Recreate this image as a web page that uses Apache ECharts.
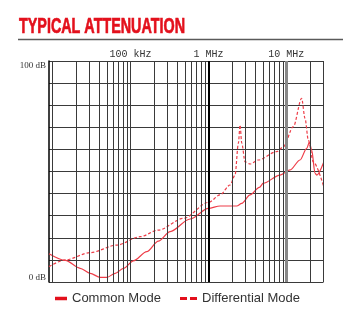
<!DOCTYPE html>
<html>
<head>
<meta charset="utf-8">
<script src="https://cdn.jsdelivr.net/npm/echarts@6/dist/echarts.min.js"></script>
<style>
html,body{margin:0;padding:0;background:#fff;}
#chart{width:350px;height:322px;}
</style>
</head>
<body>
<div id="chart"></div>
<script>
// ---- data (frequency in Hz, attenuation in dB) ----
const titleText = 'TYPICAL ATTENUATION';
const seriesNames = ['Common Mode', 'Differential Mode'];

const cmFreq = [9000, 14600, 22600, 30400, 40900, 49800, 63600, 81300, 109000, 162000, 228000, 323000, 582000,
  1000000, 1413000, 2312000, 2680000, 3426000, 4508000, 5074000, 8300000, 11150000, 15000000, 18280000,
  19730000, 21170000, 23350000, 24540000, 30000000];
const cmAtt = [12.8, 9.8, 6.2, 3.9, 2.1, 2.1, 3.9, 6.2, 9.6, 13.7, 18.5, 22.8, 28.5,
  33.3, 34.4, 34.4, 35.6, 39.4, 42.8, 44.7, 48.4, 50.7, 55.2, 60.5,
  63.2, 59.7, 49.2, 48.4, 54.0];

const dmFreq = [9000, 14600, 30400, 67000, 133000, 228000, 477000, 1000000, 1413000, 1897000, 2198000,
  2425000, 2548000, 2680000, 2953000, 3426000, 4377000, 7530000, 9160000, 12300000, 15740000,
  17380000, 19150000, 22180000, 30000000];
const dmAtt = [7.0, 10.0, 13.3, 16.7, 20.5, 23.5, 28.8, 36.0, 39.4, 43.9, 48.4,
  62.8, 71.0, 62.8, 54.4, 53.4, 55.2, 59.0, 61.2, 70.3, 83.1,
  74.0, 64.3, 54.4, 43.5];

// vertical grid frequencies (Hz)
const gridFreqs = [10000, 20000, 30000, 40000, 50000, 60000, 70000, 80000, 90000,
  100000, 200000, 300000, 400000, 500000, 600000, 700000, 800000, 900000,
  1000000, 2000000, 3000000, 4000000, 5000000, 6000000, 7000000, 8000000, 9000000,
  10000000, 20000000, 30000000];
const xTickLabels = {5: '100 kHz', 6: '1 MHz', 7: '10 MHz'};
const yTickLabels = {0: '0 dB', 100: '100 dB'};
const xMin = 9000, xMax = 30000000, yMin = 0, yMax = 100, yStep = 10;

// ---- chart ----
const zip = (a, b) => a.map((v, i) => [v, b[i]]);
const gridColor = '#3a3a3a';
const markData = gridFreqs.map(f => {
  let ls = {color: gridColor, width: 1, type: 'solid'};
  if (f === 1000000) ls = {color: '#000', width: 2, type: 'solid'};
  if (f === 10000000) ls = {color: '#888', width: 3, type: 'solid'};
  return {xAxis: f, lineStyle: ls};
});

// title scale
const cv = document.createElement('canvas').getContext('2d');
const titleFont = 'bold 22px "Liberation Sans", Arial, sans-serif';
cv.font = titleFont;
const titleScale = 166 / cv.measureText(titleText).width;

const chart = echarts.init(document.getElementById('chart'), null, {renderer: 'canvas'});
const lineColor = '#ee3d48';
chart.setOption({
  backgroundColor: '#fff',
  animation: false,
  graphic: [
    {type: 'text', x: 19, y: 27, scaleX: titleScale,
     style: {text: titleText, font: titleFont, fill: '#e3101c', stroke: '#e3101c', lineWidth: 0.7,
       verticalAlign: 'middle', align: 'left'}},
    {type: 'line', shape: {x1: 18, y1: 39.5, x2: 343, y2: 39.5}, style: {stroke: '#5a5a5a', lineWidth: 1.5}}
  ],
  grid: {left: 49, right: 26.5, top: 61, bottom: 40},
  xAxis: {
    type: 'log', min: xMin, max: xMax, logBase: 10, position: 'top',
    axisLine: {show: false}, axisTick: {show: false}, splitLine: {show: false},
    axisLabel: {
      margin: 2, color: '#333', fontFamily: '"Liberation Mono", monospace', fontSize: 10,
      formatter: v => { const l = Math.log10(v); const r = Math.round(l); return Math.abs(l - r) < 1e-6 && xTickLabels[r] ? xTickLabels[r] : ''; }
    }
  },
  yAxis: [
    {type: 'value', min: yMin, max: yMax, interval: yStep, position: 'left',
     axisLine: {show: true, lineStyle: {color: '#000', width: 1.5}}, axisTick: {show: false},
     splitLine: {show: true, lineStyle: {color: gridColor, width: 1}},
     axisLabel: {margin: 3, color: '#333', fontFamily: '"Liberation Serif", serif', fontSize: 9, verticalAlign: 'top',
       formatter: v => v === yMax ? yTickLabels[v] : ''}},
    {type: 'value', min: yMin, max: yMax, interval: yStep, position: 'left',
     axisLine: {show: false}, axisTick: {show: false}, splitLine: {show: false},
     axisLabel: {margin: 3, color: '#333', fontFamily: '"Liberation Serif", serif', fontSize: 9, verticalAlign: 'bottom',
       formatter: v => v === yMin ? yTickLabels[v] : ''}}
  ],
  legend: [
    {left: 50, top: 287, data: [{name: seriesNames[0], icon: 'rect'}], itemWidth: 12, itemHeight: 3.5,
     itemStyle: {color: '#e3101c'}, textStyle: {fontFamily: '"Liberation Sans", Arial, sans-serif', fontSize: 13, color: '#333'}},
    {left: 175, top: 287, data: [{name: seriesNames[1], icon: 'path://M0,0H7V3H0ZM10,0H17V3H10Z'}], itemWidth: 17, itemHeight: 3.5,
     itemStyle: {color: '#e3101c'}, textStyle: {fontFamily: '"Liberation Sans", Arial, sans-serif', fontSize: 13, color: '#333'}}
  ],
  series: [
    {name: 'grid', type: 'line', data: [], silent: true, z: 1,
     markLine: {silent: true, symbol: 'none', label: {show: false}, animation: false, data: markData}},
    {name: seriesNames[0], type: 'line', data: zip(cmFreq, cmAtt), showSymbol: false, symbol: 'none',
     smooth: 0.3, smoothMonotone: 'x', z: 3, color: lineColor,
     lineStyle: {color: lineColor, width: 1.2}},
    {name: seriesNames[1], type: 'line', data: zip(dmFreq, dmAtt), showSymbol: false, symbol: 'none',
     smooth: 0.3, smoothMonotone: 'x', z: 3, color: lineColor,
     lineStyle: {color: lineColor, width: 1.2, type: [3, 2]}}
  ]
});
</script>
</body>
</html>
